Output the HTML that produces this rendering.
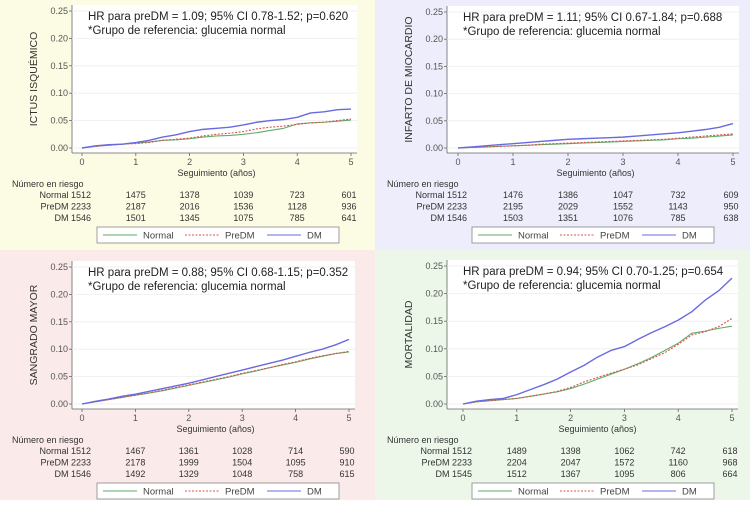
<!DOCTYPE html>
<html><head><meta charset="utf-8"><style>
body{margin:0;width:750px;height:500px;overflow:hidden;font-family:"Liberation Sans",sans-serif}
svg text{font-family:"Liberation Sans",sans-serif}
</style></head><body>
<svg id="fig" width="750" height="500" viewBox="0 0 750 500" xmlns="http://www.w3.org/2000/svg">
<rect x="0" y="0" width="375" height="250" fill="#fcfbe4"/>
<rect x="375" y="0" width="375" height="250" fill="#ededfb"/>
<rect x="0" y="250" width="375" height="250" fill="#fbeaea"/>
<rect x="375" y="250" width="375" height="250" fill="#ecf7e9"/>
</svg>
<script>
const timesYears=[0,0.25,0.5,0.75,1,1.25,1.5,1.75,2,2.25,2.5,2.75,3,3.25,3.5,3.75,4,4.25,4.5,4.75,5];
const yTicks=[0,0.05,0.10,0.15,0.20,0.25];
const xTicks=[0,1,2,3,4,5];
const seriesNames=["Normal","PreDM","DM"];
const tlNormal=[0,.003,.005,.007,.009,.011,.014,.015,.017,.020,.022,.023,.025,.028,.032,.036,.044,.046,.047,.049,.051];
const tlPreDM=[0,.003,.005,.007,.008,.010,.014,.016,.018,.022,.025,.027,.030,.035,.038,.040,.043,.046,.047,.050,.053];
const tlDM=[0,.004,.006,.007,.010,.014,.020,.024,.030,.034,.036,.038,.042,.047,.050,.052,.056,.064,.066,.070,.071];
const trNormal=[0,.001,.002,.003,.004,.005,.006,.007,.008,.009,.010,.011,.012,.013,.014,.015,.017,.018,.020,.022,.024];
const trPreDM=[0,.001,.002,.003,.004,.005,.007,.008,.009,.010,.011,.012,.013,.014,.015,.016,.018,.020,.022,.024,.026];
const trDM=[0,.002,.004,.006,.008,.010,.012,.014,.016,.017,.018,.019,.020,.022,.024,.026,.028,.031,.034,.038,.045];
const blNormal=[0,.004,.008,.012,.016,.020,.024,.029,.034,.039,.044,.049,.055,.060,.066,.071,.076,.082,.087,.092,.095];
const blPreDM=[0,.004,.008,.012,.016,.020,.025,.030,.035,.040,.045,.050,.056,.061,.066,.072,.077,.083,.088,.092,.096];
const blDM=[0,.005,.009,.014,.018,.023,.028,.033,.038,.044,.050,.056,.062,.068,.074,.080,.087,.094,.100,.108,.118];
const brNormal=[0,.004,.006,.008,.010,.014,.018,.022,.028,.036,.045,.054,.063,.073,.084,.097,.110,.128,.132,.137,.141];
const brPreDM=[0,.004,.006,.008,.010,.014,.018,.023,.030,.040,.048,.056,.063,.071,.082,.093,.108,.125,.131,.140,.155];
const brDM=[0,.005,.008,.010,.017,.026,.035,.045,.058,.070,.085,.097,.104,.117,.129,.140,.152,.167,.188,.205,.228];
const tlRisk=[["Normal 1512",1475,1378,1039,723,601],["PreDM 2233",2187,2016,1536,1128,936],["DM 1546",1501,1345,1075,785,641]];
const trRisk=[["Normal 1512",1476,1386,1047,732,609],["PreDM 2233",2195,2029,1552,1143,950],["DM 1546",1503,1351,1076,785,638]];
const blRisk=[["Normal 1512",1467,1361,1028,714,590],["PreDM 2233",2178,1999,1504,1095,910],["DM 1546",1492,1329,1048,758,615]];
const brRisk=[["Normal 1512",1489,1398,1062,742,618],["PreDM 2233",2204,2047,1572,1160,968],["DM 1545",1512,1367,1095,806,664]];
const panels=[
 {id:"ictus",title:"ICTUS ISQUÉMICO",hr:"HR para preDM = 1.09; 95% CI 0.78-1.52; p=0.620",ox:0,oy:0,x0:82,x5:351,y0:148,y25:11,s:[tlNormal,tlPreDM,tlDM],risk:tlRisk},
 {id:"infarto",title:"INFARTO DE MIOCARDIO",hr:"HR para preDM = 1.11; 95% CI 0.67-1.84; p=0.688",ox:375,oy:0,x0:458,x5:733,y0:148,y25:12,s:[trNormal,trPreDM,trDM],risk:trRisk},
 {id:"sangrado",title:"SANGRADO MAYOR",hr:"HR para preDM = 0.88; 95% CI 0.68-1.15; p=0.352",ox:0,oy:250,x0:82,x5:349,y0:404,y25:267,s:[blNormal,blPreDM,blDM],risk:blRisk},
 {id:"mortalidad",title:"MORTALIDAD",hr:"HR para preDM = 0.94; 95% CI 0.70-1.25; p=0.654",ox:375,oy:250,x0:463,x5:732,y0:404,y25:266,s:[brNormal,brPreDM,brDM],risk:brRisk}];
const colors=["#5fae6a","#d9534f","#6a6ae0"];
const dashes=["","2,1.5",""];
const NS="http://www.w3.org/2000/svg";
const svg=document.getElementById("fig");
function mk(tag,attrs,parent,text){const e=document.createElementNS(NS,tag);for(const k in attrs)e.setAttribute(k,attrs[k]);if(text!==undefined)e.textContent=text;parent.appendChild(e);return e;}
panels.forEach(p=>{
 const g=mk("g",{},svg);
 
 
 const xs=v=>p.x0+(p.x5-p.x0)*v/5;
 const ys=v=>p.y0-(p.y0-p.y25)*v/0.25;
 const left=p.ox+72,right=p.x5+6,top=p.y25-6,bottom=p.y0+5;
 const bg=mk("rect",{x:left,y:top,width:right-left,height:bottom-top,fill:"#fff"},g);
 
 
 mk("line",{x1:left,y1:top,x2:left,y2:bottom,stroke:"#666","stroke-width":0.8},g);
 mk("line",{x1:left,y1:bottom,x2:right,y2:bottom,stroke:"#666","stroke-width":0.8},g);
 yTicks.forEach(t=>{
  const y=ys(t);
  mk("line",{x1:left,y1:y,x2:right,y2:y,stroke:"#eee","stroke-width":0.8},g);
  mk("line",{x1:left-3,y1:y,x2:left,y2:y,stroke:"#666","stroke-width":0.8},g);
  const tl=mk("text",{x:left-4,y:y+3,"font-size":9,fill:"#555","text-anchor":"end"},g,t.toFixed(2));
  
  
 });
 xTicks.forEach(t=>{
  const x=xs(t);
  mk("line",{x1:x,y1:bottom,x2:x,y2:bottom+3,stroke:"#666","stroke-width":0.8},g);
  const tl=mk("text",{x:x,y:bottom+12,"font-size":9,fill:"#555","text-anchor":"middle"},g,String(t));
  
  
 });
 const tx=p.ox+37,tyy=(top+bottom)/2;
 const yt=mk("text",{x:tx,y:tyy,"font-size":10.5,fill:"#333","text-anchor":"middle",transform:`rotate(-90 ${tx} ${tyy})`},g,p.title);
 
 
 const xt=mk("text",{x:(p.x0+p.x5)/2,y:bottom+23,"font-size":9,fill:"#333","text-anchor":"middle"},g,"Seguimiento (años)");
 
 
 const hr=mk("text",{x:p.ox+88,y:top+15,"font-size":11.5,fill:"#222"},g,p.hr);
 
 
 const rf=mk("text",{x:p.ox+88,y:top+29,"font-size":11.5,fill:"#222"},g,"*Grupo de referencia: glucemia normal");
 
 
 p.s.forEach((vals,i)=>{
  let d="M"+xs(timesYears[0])+","+ys(vals[0]);
  for(let k=1;k<vals.length;k++){d+=" L"+xs(timesYears[k])+","+ys(vals[k]);}
  const path=mk("path",{d:d,fill:"none",stroke:colors[i],"stroke-width":i==2?1.4:1.1,"stroke-dasharray":dashes[i],"stroke-linejoin":"round"},g);
  
  
 });
 const rt=mk("text",{x:p.ox+12,y:bottom+34,"font-size":9,fill:"#333"},g,"Número en riesgo");
 
 
 p.risk.forEach((row,r)=>{
  const y=bottom+45+r*11.5;
  const lab=mk("text",{x:xs(0)+9,y:y,"font-size":9,fill:"#333","text-anchor":"end"},g,row[0]);
  
  
  for(let c=1;c<row.length;c++){
   const t=mk("text",{x:xs(c)-(c==5?2:0),y:y,"font-size":9,fill:"#333","text-anchor":"middle"},g,String(row[c]));
   
   
  }
 });
 const lx=p.ox+97,ly=bottom+74;
 const lb=mk("rect",{x:lx,y:ly,width:242,height:16,fill:"#fff",stroke:"#888","stroke-width":0.8},g);
 
 
 seriesNames.forEach((n,i)=>{
  const bx=lx+6+i*82;
  mk("line",{x1:bx,y1:ly+8,x2:bx+34,y2:ly+8,stroke:colors[i],"stroke-width":1.1,"stroke-dasharray":dashes[i]},g);
  const t=mk("text",{x:bx+40,y:ly+11.5,"font-size":9.5,fill:"#444"},g,n);
  
  
 });
});
</script>
</body></html>
